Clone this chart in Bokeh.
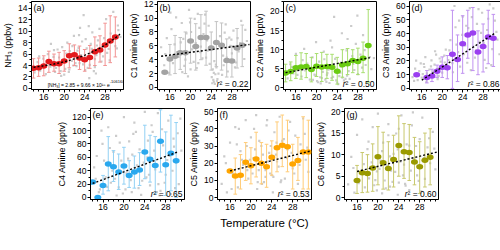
import numpy as np
from bokeh.plotting import figure
from bokeh.models import Range1d, FixedTicker, Label, Spacer
from bokeh.layouts import row, column
from bokeh.embed import file_html
from bokeh.resources import INLINE

FONT = "Liberation Sans"

# ---------------- data ----------------
# (a) NH3
T_a = list(range(14, 31))
mean_a = [3.5, 3.6, 3.9, 4.7, 4.3, 4.3, 4.8, 5.7, 5.9, 5.3, 5.0, 5.4, 6.4, 6.7, 7.6, 8.3, 9.0]
low_a = [1.8, 2.1, 2.2, 2.8, 3.0, 2.6, 3.0, 3.6, 4.0, 3.3, 3.0, 3.5, 4.0, 4.6, 4.0, 4.5, 5.5]
high_a = [5.2, 5.3, 5.7, 6.5, 6.0, 6.3, 6.6, 7.8, 7.6, 7.4, 6.8, 7.5, 9.0, 9.2, 11.4, 12.7, 12.5]
bgx_a = [14.2, 14.8, 15.3, 15.9, 16.4, 16.8, 17.3, 17.9, 18.2, 18.7, 19.1, 19.6, 20.2, 20.6, 21.1, 21.5, 21.9,
         22.4, 22.8, 23.3, 23.7, 24.2, 24.6, 25.1, 25.5, 26.0, 26.4, 26.9, 27.3, 27.8, 28.2, 28.7, 29.1, 29.6,
         30.0, 30.5, 31.0, 19.4, 20.9, 22.2, 23.1, 24.9, 25.8, 27.6, 17.4, 21.3, 23.8, 26.2, 28.9, 30.3,
         17.6, 18.4, 19.0, 19.8, 20.4, 21.0, 21.6, 22.0, 22.6, 23.0, 23.5, 24.0, 24.4, 25.0, 25.4, 26.0, 26.6,
         27.0, 18.0, 19.3, 20.7, 21.8, 22.9, 24.1, 25.2, 26.3, 27.4, 16.2, 15.1, 28.4, 29.4, 30.6, 20.0, 23.4, 24.8]
bgy_a = [2.8, 4.6, 3.1, 5.2, 2.5, 6.0, 3.8, 5.5, 2.9, 6.8, 4.1, 7.2, 3.4, 8.0, 6.5, 4.8, 9.2, 3.9, 7.1, 5.8,
         4.2, 8.6, 3.6, 6.2, 9.8, 5.1, 7.5, 10.4, 4.7, 8.8, 12.1, 6.9, 9.6, 13.4, 7.4, 11.0, 9.0, 2.2, 2.9,
         4.4, 10.6, 1.8, 3.0, 5.6, 7.8, 6.0, 12.8, 2.6, 4.9, 7.0,
         4.3, 3.6, 5.4, 4.9, 6.1, 3.3, 7.4, 5.2, 6.6, 4.4, 8.2, 5.5, 7.0, 4.1, 6.9, 3.7, 8.4, 6.1, 6.7, 3.0,
         5.9, 4.0, 9.3, 3.2, 7.8, 5.8, 7.2, 4.0, 5.6, 6.2, 8.1, 10.2, 2.4, 5.0, 10.9]

# (b) C1 amine
T_b = list(range(15, 31))
mean_b = [2.2, 4.1, 4.5, 5.0, 5.0, 6.7, 5.9, 7.2, 7.2, 5.7, 6.5, 6.1, 3.9, 3.8, 5.7, 6.1]
low_b = [None, 1.8, 2.0, 2.6, 2.0, 3.5, 2.5, 4.0, 3.2, 2.5, 3.0, 2.5, 1.5, 1.5, 2.8, 3.0]
high_b = [None, 6.2, 7.5, 7.2, 8.0, 10.0, 9.2, 10.5, 11.0, 8.0, 9.5, 9.3, 7.0, 6.0, 8.5, 9.0]
fitx_b = [14.3, 31.4]
fity_b = [4.5, 6.2]
bgx_b = [14.3, 14.9, 15.4, 15.8, 16.3, 16.9, 17.2, 17.7, 18.3, 18.8, 19.2, 19.7, 20.3, 20.8, 21.2, 21.7, 22.3,
         22.8, 23.2, 23.7, 24.1, 24.3, 24.5, 24.6, 24.8, 25.0, 25.2, 25.7, 26.3, 26.8, 27.2, 27.7, 28.3, 28.8,
         29.3, 29.8, 30.4, 30.9, 18.1, 20.1, 22.0, 26.1, 28.0, 16.1, 19.5, 21.5, 23.5, 27.5,
         17.4, 18.6, 19.0, 19.9, 20.6, 21.0, 21.9, 22.5, 23.0, 23.9, 24.2, 24.4, 24.5, 24.7, 24.9, 25.1, 25.4,
         25.9, 26.6, 27.0, 27.9, 28.6, 29.1, 16.6, 15.1, 20.0, 22.7, 26.4, 29.6, 30.6, 18.4, 21.4, 23.3]
bgy_b = [5.8, 3.2, 7.1, 2.1, 8.4, 6.2, 10.1, 4.4, 9.3, 3.1, 7.8, 11.2, 5.5, 9.9, 2.8, 8.6, 4.2, 10.5, 6.8,
         3.4, 1.5, 2.6, 0.8, 3.8, 1.9, 2.9, 1.2, 7.4, 4.6, 9.1, 2.3, 6.0, 8.2, 3.6, 5.2, 9.6, 4.1, 6.7, 6.5,
         8.0, 5.9, 1.8, 4.9, 10.8, 1.6, 3.5, 8.9, 7.2,
         5.1, 7.0, 4.0, 9.4, 3.7, 6.4, 5.1, 7.7, 4.3, 5.9, 0.6, 1.1, 2.1, 0.5, 3.3, 0.9, 2.0, 5.6, 7.9, 4.3,
         6.9, 2.9, 7.1, 3.5, 4.8, 2.6, 9.2, 3.2, 6.4, 8.3, 2.2, 10.6, 5.3]

# (c) C2 amine
T_c = list(range(14, 31))
mean_c = [3.9, 4.3, 5.3, 5.5, 5.6, 4.8, 5.7, 5.5, 5.6, 5.4, 4.4, 6.1, 6.3, 7.2, 6.9, 7.8, 11.1]
low_c = [1.6, 1.9, 2.5, 2.3, 2.7, 1.6, 3.0, 1.7, 2.5, 2.0, 1.0, 2.8, 3.5, 4.0, 3.5, 4.0, 1.5]
high_c = [6.2, 6.8, 8.5, 9.2, 9.0, 8.0, 9.0, 9.3, 8.8, 8.8, 8.0, 10.0, 10.3, 10.0, 10.4, 12.0, 20.5]
fitx_c = [14.0, 30.3]
fity_c = [4.0, 7.9]
bgx_c = [14.4, 14.9, 15.5, 16.0, 16.6, 17.1, 17.6, 18.2, 18.7, 19.2, 19.6, 20.1, 20.5, 21.0, 21.4, 21.9, 22.3,
         22.7, 23.2, 23.6, 24.0, 24.4, 24.9, 25.3, 25.8, 26.2, 26.7, 27.1, 27.6, 28.0, 28.5, 29.0, 29.5, 30.0,
         30.6, 31.1, 20.8, 22.1, 23.4, 24.7, 25.6, 26.9, 27.9, 17.8, 19.9,
         19.3, 19.8, 20.3, 20.7, 21.2, 21.7, 22.0, 22.5, 22.9, 23.3, 23.8, 24.2, 24.6, 25.0, 25.5, 25.9, 26.4,
         18.4, 17.3, 16.3, 15.2, 27.3, 28.2, 28.8, 29.3, 30.3, 21.5, 23.0, 24.8, 26.0]
bgy_c = [2.5, 6.2, 3.8, 8.9, 5.1, 3.0, 10.2, 6.4, 2.2, 8.0, 3.5, 1.8, 6.9, 2.6, 9.5, 1.6, 4.8, 12.4, 2.9,
         7.6, 1.4, 3.1, 14.3, 2.0, 9.8, 4.4, 16.2, 6.3, 11.5, 3.6, 8.7, 13.8, 6.0, 10.6, 4.9, 7.8, 1.2, 3.9,
         18.6, 5.6, 2.4, 8.3, 18.9, 4.6, 12.0,
         2.1, 3.3, 1.5, 2.8, 4.2, 2.2, 3.4, 1.3, 2.6, 5.3, 2.0, 1.0, 4.0, 2.7, 1.5, 3.2, 2.4, 5.0, 7.3, 3.4,
         5.5, 4.7, 7.1, 5.3, 9.9, 8.1, 7.5, 10.6, 6.6, 12.8]

# (d) C3 amine
T_d = [15, 17, 18, 19, 20, 21, 22, 23, 24, 25, 26, 27, 28, 29, 30]
mean_d = [10.0, 8.0, 9.0, 12.5, 15.5, 15.0, 25.0, 21.0, 32.5, 39.0, 40.5, 26.5, 30.5, 37.5, 36.5]
low_d = [None, 4, 5, 8, 8, 7, 0, 5, 11, 22, 13, 10, 12, 18, 16]
high_d = [None, 13, 14, 17, 23, 24, 57, 39, 53, 57, 59, 42, 47, 57, 54]
fitx_d = [16.0, 30.2]
fity_d = [6.0, 40.0]
bgx_d = [14.2, 14.7, 15.2, 15.8, 16.2, 16.7, 17.3, 17.8, 18.3, 18.8, 19.3, 19.7, 20.2, 20.7, 21.2, 21.6, 22.1,
         22.6, 23.1, 23.5, 24.0, 24.5, 24.9, 25.4, 25.9, 26.4, 26.8, 27.3, 27.8, 28.3, 28.8, 29.3, 29.8, 30.3,
         30.8, 31.2, 22.4, 23.9, 25.6, 27.1, 28.6, 30.0, 24.7, 26.1, 16.9, 18.6,
         14.5, 15.0, 15.5, 16.0, 16.5, 17.0, 17.5, 18.0, 18.5, 19.0, 19.5, 20.0, 20.5, 21.0, 14.9, 16.4, 17.9,
         19.1, 20.4, 21.4, 22.8, 23.3, 24.2, 25.1, 26.6, 27.6, 28.1, 29.0, 29.6, 30.6, 22.0, 25.8]
bgy_d = [8.2, 14.5, 6.1, 18.3, 10.4, 22.8, 7.5, 16.1, 12.3, 24.6, 9.2, 19.5, 14.8, 28.3, 20.6, 35.2, 11.8,
         44.6, 26.5, 15.9, 52.3, 31.4, 18.7, 58.6, 39.8, 22.4, 47.1, 33.9, 55.2, 20.8, 42.6, 61.3, 28.7, 49.4,
         35.6, 24.9, 60.1, 39.0, 13.4, 57.8, 14.9, 58.4, 45.7, 30.5, 4.8, 27.1,
         5.5, 9.8, 12.6, 7.9, 15.6, 11.0, 13.8, 9.6, 17.4, 14.0, 21.8, 11.5, 18.9, 16.4, 20.2, 17.8, 20.4,
         6.8, 23.9, 27.8, 32.0, 49.5, 24.9, 44.0, 27.8, 40.5, 33.2, 50.8, 17.0, 41.3, 18.5, 52.0]

# (e) C4 amine
T_e = list(range(14, 31))
mean_e = [23, 0, 18, 50, 46, 38, 47, 33, 38, 41, 68, 57, 48, 84, 49, 66, 55]
low_e = [None, None, 5, 10, 24, 12, 20, 15, 14, 18, 28, 23, 5, 38, 3, 10, 0]
high_e = [None, None, 33, 91, 70, 65, 75, 55, 62, 67, 108, 93, 91, 131, 98, 123, 112]
fitx_e = [14.0, 30.3]
fity_e = [21.0, 68.0]
bgx_e = [14.3, 14.8, 15.4, 15.9, 16.5, 17.0, 17.5, 18.0, 18.5, 19.0, 19.5, 20.0, 20.5, 21.0, 21.5, 22.0, 22.5,
         23.0, 23.5, 24.0, 24.5, 25.0, 25.5, 26.0, 26.5, 27.0, 27.5, 28.0, 28.5, 29.0, 29.5, 30.0, 30.5, 31.0,
         21.8, 23.3, 25.3, 26.8, 28.8, 18.8, 20.3, 24.3,
         14.6, 15.2, 16.2, 16.8, 17.3, 17.8, 18.3, 19.2, 19.8, 20.8, 21.3, 22.3, 22.8, 23.8, 24.8, 25.8, 26.3,
         27.3, 27.8, 28.3, 29.3, 29.8, 30.3, 30.8, 15.7, 18.6, 21.6, 24.6, 26.6, 29.6]
bgy_e = [45, 62, 12, 80, 30, 105, 22, 68, 92, 15, 55, 120, 36, 84, 8, 112, 48, 72, 25, 128, 60, 18, 98, 42,
         126, 10, 78, 34, 115, 5, 88, 52, 20, 70, 95, 4, 108, 3, 62, 38, 12, 30,
         28, 8, 55, 16, 74, 40, 28, 82, 6, 58, 26, 98, 14, 52, 34, 70, 8, 102, 22, 56, 40, 14, 96, 118, 100,
         3, 64, 85, 20, 76]

# (f) C5 amine
T_f = list(range(16, 32))
mean_f = [15.5, 12.5, 13.0, 20.5, 18.5, 22.5, 20.0, 18.0, 23.5, 29.0, 30.5, 29.5, 19.5, 21.5, 26.5, 26.5]
low_f = [None, 2, 5, 10, 8, 12, 8, 6, 13, 15, 18, 15, 5, 10, 5, 5]
high_f = [None, 23, 25, 32, 29, 38, 32, 31, 33, 44, 48, 45, 31, 35, 47, 45]
fitx_f = [16.0, 31.3]
fity_f = [15.5, 27.0]
bgx_f = [14.4, 14.9, 15.4, 16.0, 16.5, 17.0, 17.5, 18.0, 18.5, 19.0, 19.5, 20.0, 20.5, 21.0, 21.5, 22.0, 22.5,
         23.0, 23.5, 24.0, 24.5, 25.0, 25.5, 26.0, 26.5, 27.0, 27.5, 28.0, 28.5, 29.0, 29.5, 30.0, 30.5, 31.0,
         21.2, 22.8, 24.2, 25.7, 27.2, 19.2, 17.7, 23.7,
         19.8, 20.3, 20.8, 21.3, 21.8, 22.3, 22.8, 23.3, 23.8, 24.3, 24.8, 25.3, 25.8, 26.3, 19.3, 18.3, 17.3,
         16.3, 15.2, 27.8, 28.3, 29.3, 30.3, 30.8, 22.1, 24.9, 26.9, 20.6, 23.1, 21.6]
bgy_f = [8, 24, 3, 32, 14, 41, 6, 27, 19, 45, 11, 35, 23, 48, 16, 30, 9, 42, 26, 13, 38, 21, 47, 33, 11, 28,
         44, 17, 36, 8, 31, 46, 22, 15, 5, 12, 3, 9, 39, 30, 40, 14,
         22, 14, 28, 9, 19, 25, 16, 21, 30, 12, 25, 18, 10, 34, 16, 22, 31, 5, 20, 26, 14, 19, 37, 29, 8, 32,
         23, 40, 45, 33]

# (g) C6 amine
T_g = list(range(16, 31))
mean_g = [4.0, 5.8, 5.6, 6.9, 9.5, 8.1, 6.8, 8.9, 12.1, 10.7, 10.5, 8.3, 7.2, 8.7, 9.4]
low_g = [1.0, 1.2, 1.3, 1.5, 3.0, 2.0, 1.8, 2.5, 5.0, 4.5, 4.0, 3.0, 1.0, 2.5, 3.0]
high_g = [7.5, 10.5, 10.0, 12.5, 16.5, 15.2, 13.0, 14.5, 19.0, 17.2, 17.0, 14.0, 13.0, 15.0, 16.0]
fitx_g = [16.0, 31.3]
fity_g = [6.1, 10.6]
bgx_g = [14.3, 14.9, 15.5, 16.0, 16.5, 17.0, 17.5, 18.0, 18.5, 19.0, 19.5, 20.0, 20.5, 21.0, 21.5, 22.0, 22.5,
         23.0, 23.5, 24.0, 24.5, 25.0, 25.5, 26.0, 26.5, 27.0, 27.5, 28.0, 28.5, 29.0, 29.5, 30.0, 30.5, 31.0,
         20.8, 22.3, 23.8, 25.2, 26.7, 28.3, 18.2, 19.8,
         18.3, 18.8, 19.3, 20.3, 20.8, 21.3, 21.8, 22.3, 22.8, 23.3, 23.8, 24.3, 24.8, 25.3, 25.8, 26.3, 17.3,
         16.3, 15.3, 27.3, 28.8, 29.8, 30.8, 19.8, 22.0, 24.0, 26.0, 27.8]
bgy_g = [3.1, 9.5, 1.2, 14.6, 5.8, 18.2, 2.4, 11.3, 7.0, 16.4, 4.1, 19.5, 8.6, 12.8, 2.2, 17.1, 6.3, 10.2,
         14.9, 3.5, 19.1, 7.7, 12.4, 1.8, 16.8, 9.1, 5.2, 13.6, 18.6, 4.4, 11.7, 8.0, 15.3, 6.6, 1.0, 2.6, 0.7,
         3.2, 19.8, 1.5, 13.0, 6.1,
         4.5, 8.2, 2.9, 6.7, 10.8, 4.0, 7.4, 9.6, 3.7, 6.0, 11.2, 8.4, 5.2, 2.8, 9.0, 6.3, 7.8, 3.4, 6.9, 12.0,
         9.2, 13.8, 11.4, 1.7, 14.5, 16.0, 12.1, 3.9]

x_major = [16, 20, 24, 28]
x_minor = list(range(14, 32))


def panel(bgx, bgy, T, mean, low, high, fitx, fity, yr, ymaj, ymin, ylabel, tag, r2,
          mc, bc, fw, fh, bl, br, bt, bb, xlabel=None):
    p = figure(frame_width=fw, frame_height=fh, min_border_left=bl, min_border_right=br,
               min_border_top=bt, min_border_bottom=bb,
               x_range=Range1d(13.6, 31.6), y_range=Range1d(*yr),
               output_backend="svg", toolbar_location=None)
    p.grid.visible = False
    p.outline_line_color = "black"
    p.outline_line_width = 1
    p.background_fill_color = "white"
    p.border_fill_color = "white"
    p.xaxis.ticker = FixedTicker(ticks=x_major, minor_ticks=x_minor)
    p.yaxis.ticker = FixedTicker(ticks=ymaj, minor_ticks=ymin)
    for ax in (p.xaxis[0], p.yaxis[0]):
        ax.major_tick_in = 0
        ax.major_tick_out = 3
        ax.minor_tick_in = 0
        ax.minor_tick_out = 2
        ax.axis_line_color = "black"
        ax.major_tick_line_color = "black"
        ax.minor_tick_line_color = "black"
        ax.major_label_text_font = FONT
        ax.major_label_text_font_size = "8.5px"
        ax.major_label_text_color = "black"
        ax.major_label_standoff = 1
        ax.axis_label_text_font = FONT
        ax.axis_label_text_font_style = "normal"
        ax.axis_label_text_color = "black"
    p.yaxis.axis_label = ylabel
    p.yaxis.axis_label_text_font_size = "9px"
    p.yaxis.axis_label_standoff = 2
    if xlabel:
        p.xaxis.axis_label = xlabel
        p.xaxis.axis_label_text_font_size = "11.5px"
        p.xaxis.axis_label_standoff = 4

    # background raw data
    p.scatter(bgx, bgy, marker="square", size=2.2, color="#cbcbcb", line_color=None)

    # error bars
    ex, el, eh = [], [], []
    for t, lo, hi in zip(T, low, high):
        if lo is None or hi is None:
            continue
        ex.append(t)
        el.append(lo)
        eh.append(hi)
    ex = np.array(ex, dtype=float)
    p.segment(ex, el, ex, eh, line_color=bc, line_width=1)
    p.segment(ex - 0.35, el, ex + 0.35, el, line_color=bc, line_width=1)
    p.segment(ex - 0.35, eh, ex + 0.35, eh, line_color=bc, line_width=1)

    # binned means
    p.ellipse(T, mean, width=7, height=5.5, width_units="screen", height_units="screen",
              fill_color=mc, line_color=None)

    # fit line
    if fitx is not None:
        p.line(fitx, fity, line_color="black", line_width=1.4, line_dash="2 2")

    p.add_layout(Label(x=13.6, y=yr[1], text=tag, text_baseline="top", text_align="left",
                       x_offset=2, y_offset=-1, text_font=FONT, text_font_size="9px",
                       text_color="black"))
    if r2 is not None:
        p.add_layout(Label(x=31.6, y=yr[0], text="² = " + r2, text_baseline="bottom",
                           text_align="right", x_offset=-2, y_offset=1, text_font=FONT,
                           text_font_size="8.5px", text_color="black"))
        p.add_layout(Label(x=31.6, y=yr[0], text="r", text_baseline="bottom",
                           text_align="right", x_offset=-31, y_offset=1, text_font=FONT,
                           text_font_size="8.5px", text_font_style="italic", text_color="black"))
    return p


# layout: top row
pa = panel(bgx_a, bgy_a, T_a, mean_a, low_a, high_a, None, None, (-0.2, 15.2),
           list(range(0, 15, 2)), list(range(0, 16)), "NH₃ (ppbv)", "(a)", None,
           "#e3191c", "#f29494", 92, 88, 27, 3, 1, 15)
fx_a = np.linspace(14.0, 31.0, 60)
fy_a = 2.85 + 9.66e15 * np.exp(-10616.0 / (fx_a + 273.15))
pa.line(fx_a, fy_a, line_color="black", line_width=1.4, line_dash="2 2")
pa.add_layout(Label(x=28.9, y=0.1, text="[NH₃] = 2.85 + 9.66 × 10¹⁵ e", text_baseline="bottom",
                    text_align="right", text_font=FONT, text_font_size="5px", text_color="black"))
pa.add_layout(Label(x=28.9, y=0.7, text="-10616/T", text_baseline="bottom",
                    text_align="left", text_font=FONT, text_font_size="4px", text_color="black"))

pb = panel(bgx_b, bgy_b, T_b, mean_b, low_b, high_b, fitx_b, fity_b, (-0.3, 12.4),
           list(range(0, 13, 2)), list(range(0, 13)), "C1 Amine (pptv)", "(b)", "0.22",
           "#a3a3a3", "#c3c3c3", 93, 88, 25, 2, 1, 15)
pc = panel(bgx_c, bgy_c, T_c, mean_c, low_c, high_c, fitx_c, fity_c, (-0.4, 22.6),
           [0, 5, 10, 15, 20], [0, 2.5, 5, 7.5, 10, 12.5, 15, 17.5, 20, 22.5], "C2 Amine (pptv)", "(c)", "0.50",
           "#6acc12", "#a8de70", 93, 88, 26, 2, 1, 15)
pd_ = panel(bgx_d, bgy_d, T_d, mean_d, low_d, high_d, fitx_d, fity_d, (-0.8, 63.4),
            list(range(0, 61, 10)), list(range(0, 64, 5)), "C3 Amine (pptv)", "(d)", "0.86",
            "#9b3ff0", "#c092f0", 92, 88, 27, 2, 1, 15)

# bottom row
pe = panel(bgx_e, bgy_e, T_e, mean_e, low_e, high_e, fitx_e, fity_e, (-3, 133),
           list(range(0, 121, 20)), list(range(0, 131, 10)), "C4 Amine (pptv)", "(e)", "0.65",
           "#2aa8ee", "#92d1f4", 94, 91, 31, 2, 4, 35)
pf = panel(bgx_f, bgy_f, T_f, mean_f, low_f, high_f, fitx_f, fity_f, (-1.1, 51.8),
           list(range(0, 51, 10)), list(range(0, 52, 5)), "C5 Amine (pptv)", "(f)", "0.53",
           "#ffa500", "#ffcc78", 94, 91, 28, 2, 4, 35, xlabel="Temperature (°C)")
pg = panel(bgx_g, bgy_g, T_g, mean_g, low_g, high_g, fitx_g, fity_g, (-0.4, 20.7),
           [0, 5, 10, 15, 20], [0, 2.5, 5, 7.5, 10, 12.5, 15, 17.5, 20], "C6 Amine (pptv)", "(g)", "0.60",
           "#9a9a00", "#c8c86e", 94, 91, 29, 2, 4, 35)

layout = column(row(pa, pb, pc, pd_), row(Spacer(width=54, height=130), pe, pf, pg))

open("out.html", "w").write(file_html(layout, INLINE))
